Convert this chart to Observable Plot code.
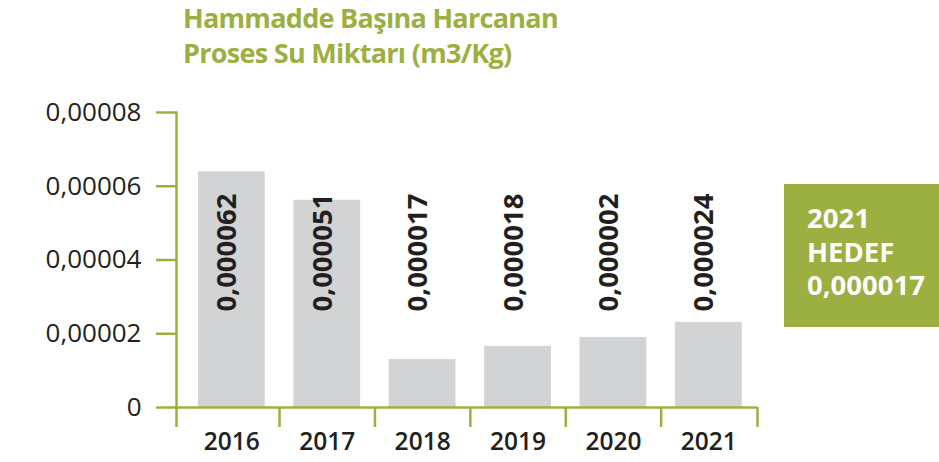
<!DOCTYPE html>
<html><head><meta charset="utf-8">
<script src="https://cdn.jsdelivr.net/npm/d3@7"></script>
<script src="https://cdn.jsdelivr.net/npm/@observablehq/plot@0.6"></script>
<style>
body{margin:0;background:#fff;font-family:"Open Sans",sans-serif;}
#wrap{position:relative;width:939px;height:462px;overflow:hidden;background:#fff}
#chart{position:absolute;left:0;top:0}
#title{position:absolute;left:183px;top:0;color:#9bb040;font-weight:700;font-size:27px;line-height:35px;white-space:nowrap}
#title span{display:inline-block}
#box{position:absolute;left:784px;top:184px;width:155px;height:143px;background:#9bb040;color:#fff;font-weight:700;font-size:27.5px;line-height:33.5px;box-sizing:border-box;padding:17px 0 0 23px;white-space:nowrap}
</style>
</head><body>
<div id="wrap">
  <div id="chart"></div>
  <div id="title"></div>
  <div id="box"></div>
</div>
<script>
const titleLines = ["Hammadde Başına Harcanan", "Proses Su Miktarı (m3/Kg)"];
const years = [2016, 2017, 2018, 2019, 2020, 2021];
const values = [0.0000639, 0.0000562, 0.0000130, 0.0000166, 0.0000190, 0.0000231];
const labels = ["0,000062", "0,000051", "0,000017", "0,000018", "0,000002", "0,000024"];
const yTicks = [0, 0.00002, 0.00004, 0.00006, 0.00008];
const targetLines = ["2021", "HEDEF", "0,000017"];

const green = "#9bb040";
const dark = "#231f20";
const data = years.map((year, i) => ({year, value: values[i], label: labels[i]}));
const xDomain = [2015.42, 2021.51];
const separators = [xDomain[0], ...years.slice(0, -1).map(y => y + 0.5), xDomain[1]];

// title, slightly tightened to the reference's narrower face
const titleEl = document.getElementById("title");
titleEl.innerHTML = titleLines.map(t => `<span>${t}</span>`).join("<br>");
const firstSpan = titleEl.querySelector("span");
const w = firstSpan.getBoundingClientRect().width;
const ls = Math.max(-0.8, Math.min(0, (375 - w) / titleLines[0].length));
titleEl.style.letterSpacing = ls + "px";

document.getElementById("box").innerHTML = targetLines.join("<br>");

const chart = Plot.plot({
  width: 939,
  height: 462,
  marginTop: 112,
  marginBottom: 55,
  marginLeft: 176,
  marginRight: 182,
  style: {fontFamily: "'Open Sans', sans-serif", background: "transparent", color: dark},
  x: {type: "linear", domain: xDomain},
  y: {domain: [0, 0.00008]},
  marks: [
    Plot.rectY(data, {x1: d => d.year - 0.35, x2: d => d.year + 0.35, y: "value", fill: "#d1d3d4"}),
    Plot.text(data, {x: "year", text: "label", frameAnchor: "top", dy: 81, dx: -15, rotate: -90, textAnchor: "end", fontSize: 27.5, fontWeight: 700, fill: dark}),
    Plot.axisY({ticks: yTicks, tickSize: 20, tickPadding: 15, tickFormat: d => d === 0 ? "0" : d.toFixed(5).replace(".", ","), stroke: green, strokeWidth: 2.5, fill: dark, fontSize: 26, label: null}),
    Plot.axisX({ticks: separators, tickSize: 20, tickFormat: () => "", stroke: green, strokeWidth: 2.5, label: null}),
    Plot.axisX({ticks: years, tickSize: 0, tickPadding: 25, tickFormat: d => String(d), fill: dark, fontSize: 24.5, fontWeight: 600, label: null}),
    Plot.ruleY([0], {stroke: green, strokeWidth: 2.5}),
    Plot.frame({anchor: "left", stroke: green, strokeWidth: 2.5})
  ]
});
document.getElementById("chart").appendChild(chart);
</script>
</body></html>
